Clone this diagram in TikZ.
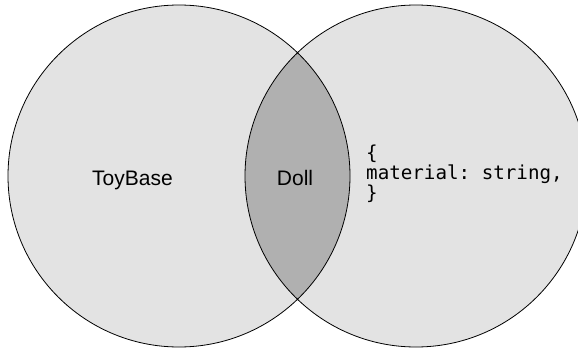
\documentclass[tikz,border=0pt]{standalone}
\usepackage{fontspec}
\setmainfont{Liberation Sans}
\setmonofont{DejaVu Sans Mono}
\definecolor{setgray}{HTML}{E3E3E3}
\definecolor{overlapgray}{HTML}{B0B0B0}
\begin{document}
\begin{tikzpicture}[
            x = 1pt, y = -1pt,
            set/.style = {circle, minimum size = 342pt, inner sep = 0pt, fill = setgray},
            settext/.style = {font = \fontsize{21}{24}\selectfont, inner sep = 0pt, anchor = base},
            code/.style = {font = \ttfamily\fontsize{19.2}{20}\selectfont, align = left, inner sep = 0pt, anchor = west}
            ]
            \useasboundingbox (0,0) rectangle (578,348);
            \node[set] (toybase) at (179,176) {};
            \node[set] (doll) at (416,176) {};
            \begin{scope}
                \clip (toybase.center) circle[radius = 171pt];
                \fill[overlapgray] (doll.center) circle[radius = 171pt];
            \end{scope}
            \draw[line width = 0.8pt] (toybase.center) circle[radius = 171pt]
                                      (doll.center) circle[radius = 171pt];
            \node[settext] (toybasetext) at (132.5,185) {ToyBase};
            \node[settext] (dolltext) at (295,185) {Doll};
            \node[code] (fields) at (366,173.5) {\{\\material: string,\\\}};
          \end{tikzpicture}
\end{document}
